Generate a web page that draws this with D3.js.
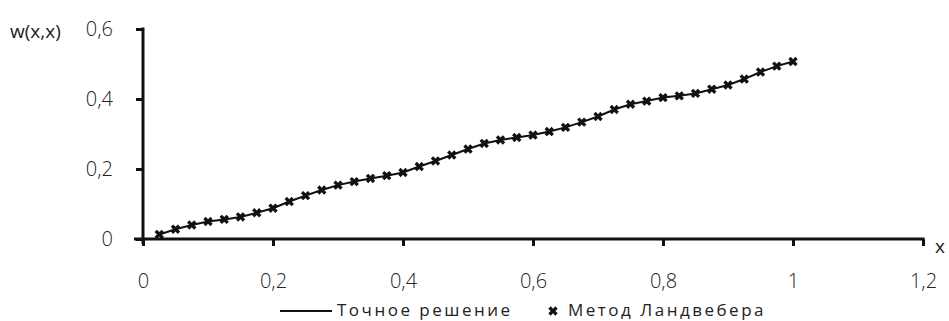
<!DOCTYPE html>
<meta charset="utf-8">
<script src="https://d3js.org/d3.v7.min.js"></script>
<style>
  body { margin: 0; background: #fff; }
  text { font-family: "Open Sans", "DejaVu Sans", sans-serif; fill: #222; }
</style>
<div id="chart"></div>
<script>

    // data
    var xVals = [0.025, 0.05, 0.075, 0.1, 0.125, 0.15, 0.175, 0.2, 0.225, 0.25,
                 0.275, 0.3, 0.325, 0.35, 0.375, 0.4, 0.425, 0.45, 0.475, 0.5,
                 0.525, 0.55, 0.575, 0.6, 0.625, 0.65, 0.675, 0.7, 0.725, 0.75,
                 0.775, 0.8, 0.825, 0.85, 0.875, 0.9, 0.925, 0.95, 0.975, 1.0];
    var exact = [0.013, 0.028, 0.040, 0.050, 0.056, 0.063, 0.075, 0.088, 0.107, 0.124,
                 0.140, 0.154, 0.164, 0.173, 0.181, 0.190, 0.207, 0.223, 0.240, 0.257,
                 0.273, 0.283, 0.290, 0.297, 0.307, 0.319, 0.334, 0.350, 0.370, 0.385,
                 0.394, 0.404, 0.409, 0.416, 0.428, 0.440, 0.457, 0.477, 0.494, 0.507];
    var landweber = exact.slice();
    var xTicks = [0, 0.2, 0.4, 0.6, 0.8, 1, 1.2];
    var yTicks = [0, 0.2, 0.4, 0.6];
    var legendNames = ["Точное решение", "Метод Ландвебера"];

    var width = 949, height = 321;

    var svg = d3.select("#chart")
        .append("svg")
        .attr("width", width)
        .attr("height", height);

    var x = d3.scaleLinear().domain([0, 1.2]).range([143, 923]);
    var y = d3.scaleLinear().domain([0, 0.6]).range([239, 29]);

    var fmt = function (d) { return String(d).replace(".", ","); };

    // X axis
    var gx = svg.append("g")
        .attr("transform", "translate(0," + y(0) + ")")
        .call(d3.axisBottom(x).tickValues(xTicks).tickSize(7).tickSizeOuter(0).tickFormat(fmt));
    gx.select(".domain").remove();
    gx.append("line")
        .attr("x1", x(0) - 9).attr("x2", x(1.2) + 1.5)
        .attr("stroke", "#111").attr("stroke-width", 3);
    gx.selectAll(".tick line").attr("stroke", "#111").attr("stroke-width", 3);
    gx.selectAll(".tick text")
        .attr("y", 35)
        .style("font-size", "20px")
        .style("font-weight", 300)
        .attr("fill", "#222");

    // Y axis
    var gy = svg.append("g")
        .attr("transform", "translate(" + x(0) + ",0)")
        .call(d3.axisLeft(y).tickValues(yTicks).tickSize(7).tickSizeOuter(0).tickFormat(fmt));
    gy.select(".domain").remove();
    gy.append("line")
        .attr("y1", y(0.6) - 1.5).attr("y2", y(0) + 5)
        .attr("stroke", "#111").attr("stroke-width", 3);
    gy.selectAll(".tick line").attr("stroke", "#111").attr("stroke-width", 3);
    gy.selectAll(".tick text")
        .attr("x", -30)
        .style("font-size", "20px")
        .style("font-weight", 300)
        .attr("fill", "#222");

    // axis titles
    svg.append("text")
        .attr("x", 10).attr("y", 31)
        .attr("dy", "0.35em")
        .style("font-size", "19px")
        .text("w(x,x)");
    svg.append("text")
        .attr("x", 935).attr("y", 246)
        .attr("dy", "0.35em")
        .style("font-size", "19px")
        .text("x");

    // exact solution line
    var pts = xVals.map(function (v, i) { return [v, exact[i]]; });
    svg.append("path")
        .datum(pts)
        .attr("fill", "none")
        .attr("stroke", "#111")
        .attr("stroke-width", 2)
        .attr("d", d3.line()
            .x(function (d) { return x(d[0]); })
            .y(function (d) { return y(d[1]); }));

    // Landweber markers
    var marker = d3.symbol().type(d3.symbolCross).size(55);
    svg.selectAll(".mk")
        .data(xVals.map(function (v, i) { return [v, landweber[i]]; }))
        .enter()
        .append("path")
        .attr("class", "mk")
        .attr("d", marker)
        .attr("fill", "#111")
        .attr("transform", function (d) {
            return "translate(" + x(d[0]) + "," + y(d[1]) + ") rotate(45)";
        });

    // legend
    var lg = svg.append("g");
    lg.append("line")
        .attr("x1", 280).attr("x2", 332)
        .attr("y1", 311).attr("y2", 311)
        .attr("stroke", "#111").attr("stroke-width", 2);
    lg.append("text")
        .attr("x", 337).attr("y", 310)
        .attr("dy", "0.35em")
        .style("font-size", "17px")
        .style("letter-spacing", "2.5px")
        .text(legendNames[0]);
    lg.append("path")
        .attr("d", marker)
        .attr("fill", "#111")
        .attr("transform", "translate(553,311) rotate(45)");
    lg.append("text")
        .attr("x", 568).attr("y", 310)
        .attr("dy", "0.35em")
        .style("font-size", "17px")
        .style("letter-spacing", "2.5px")
        .text(legendNames[1]);

</script>
